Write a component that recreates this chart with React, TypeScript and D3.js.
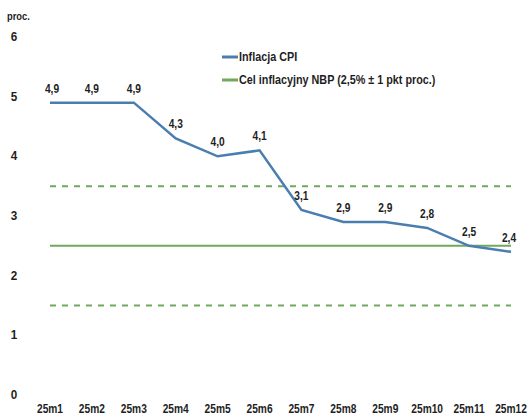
import React from "react";
import * as d3 from "d3";

const categories = ["25m1","25m2","25m3","25m4","25m5","25m6","25m7","25m8","25m9","25m10","25m11","25m12"];
const cpi = [4.9,4.9,4.9,4.3,4.0,4.1,3.1,2.9,2.9,2.8,2.5,2.4];
const target = 2.5;
const band = [1.5, 3.5];
const yTicks = [0,1,2,3,4,5,6];

const W = 532, H = 417;
const FONT = "'Liberation Sans', Arial, sans-serif";

function CText({ x, y, children, size = 12, sx = 0.85, anchor = "middle" }: any) {
  return (
    <text transform={`translate(${x},${y}) scale(${sx},1)`} fontSize={size} fontWeight="bold" textAnchor={anchor} fill="#1e1e1e">
      {children}
    </text>
  );
}

export default function App() {
  const x = d3.scalePoint<string>().domain(categories).range([50, 511]);
  const y = d3.scaleLinear().domain([0, 6]).range([395, 37]);
  const line = d3.line<number>().x((_, i) => x(categories[i])!).y(d => y(d));
  const x0 = x(categories[0])!, x1 = x(categories[categories.length - 1])!;
  const blue = "#4a7eae";
  const green = "#6fa95e";
  return (
    <svg width={W} height={H} style={{ position: "absolute", left: 0, top: 0, background: "#fff" }} fontFamily={FONT}>
      <rect width={W} height={H} fill="#fff" />
      <CText x={7} y={20} size={11} anchor="start">proc.</CText>
      {yTicks.map(t => (
        <CText key={t} x={14} y={y(t) + 4} size={13} sx={0.9}>{t}</CText>
      ))}
      <line x1={x0} x2={x1} y1={y(band[1])} y2={y(band[1])} stroke={green} strokeWidth={2} strokeDasharray="6,6" />
      <line x1={x0} x2={x1} y1={y(band[0])} y2={y(band[0])} stroke={green} strokeWidth={2} strokeDasharray="6,6" />
      <line x1={x0} x2={x1} y1={y(target)} y2={y(target)} stroke={green} strokeWidth={2} />
      <path d={line(cpi) || ""} fill="none" stroke={blue} strokeWidth={2.5} />
      {cpi.map((v, i) => (
        <CText key={i} x={x(categories[i])! + (i === 0 ? 2 : i === 11 ? -2 : 0)} y={y(v) - 10} size={12}>
          {v.toFixed(1).replace(".", ",")}
        </CText>
      ))}
      {categories.map(c => (
        <CText key={c} x={x(c)!} y={413} size={12}>{c}</CText>
      ))}
      <line x1={222} x2={238} y1={57} y2={57} stroke={blue} strokeWidth={3} />
      <CText x={239} y={61} size={12} sx={0.9} anchor="start">Inflacja CPI</CText>
      <line x1={222} x2={238} y1={80} y2={80} stroke={green} strokeWidth={3} />
      <CText x={239} y={84} size={12} sx={0.9} anchor="start">Cel inflacyjny NBP (2,5% ± 1 pkt proc.)</CText>
    </svg>
  );
}
